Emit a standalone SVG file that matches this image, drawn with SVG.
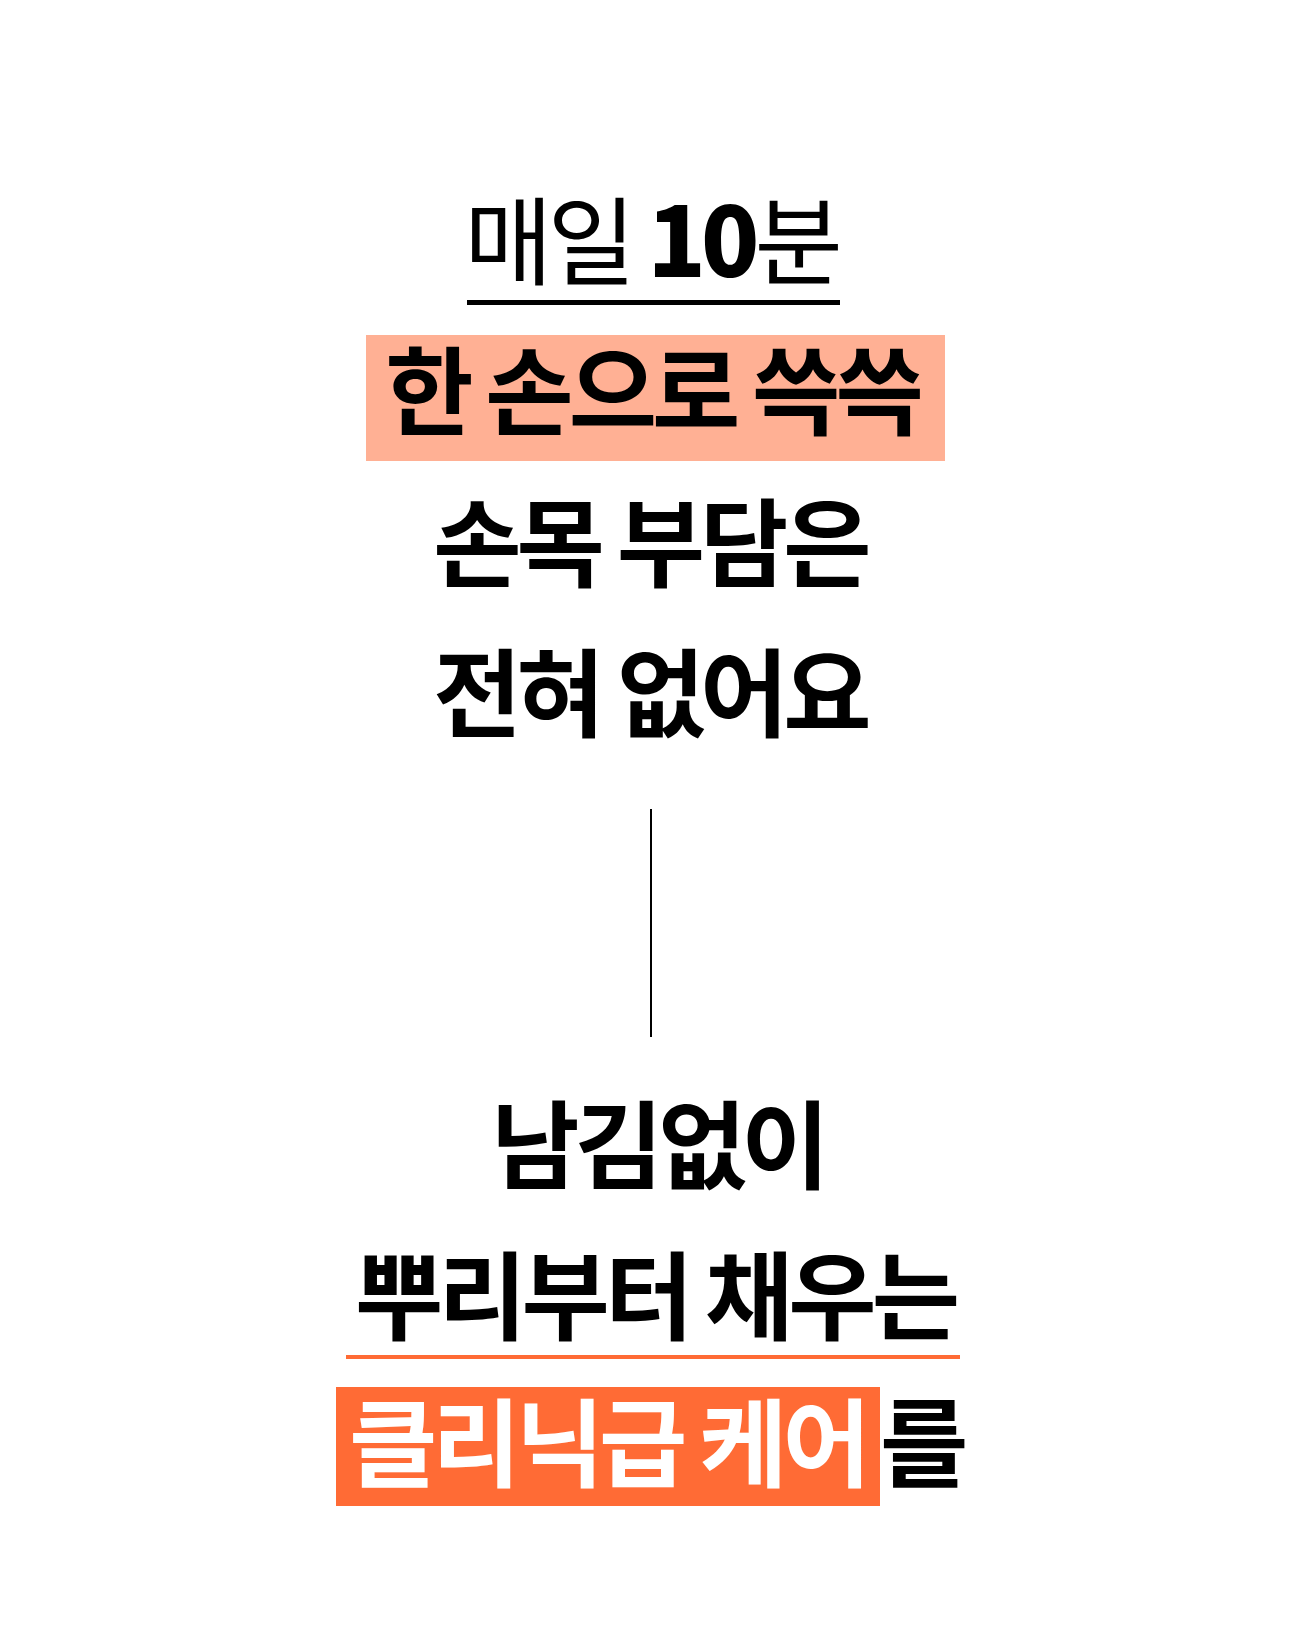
<svg xmlns="http://www.w3.org/2000/svg" width="1300" height="1633" viewBox="0 0 1300 1633">
<style>
.t{font-family:"Noto Sans CJK KR","Noto Sans",sans-serif;font-size:96px;font-weight:700;fill:#000;letter-spacing:-5px}
.reg{font-weight:400}
.w{fill:#fff}
</style>
<rect width="1300" height="1633" fill="#fff"/>
<g id="line1">
<text class="t" x="651" y="277" text-anchor="middle"><tspan class="reg">매일 </tspan><tspan font-weight="800">10</tspan><tspan class="reg">분</tspan></text>
<rect x="467" y="300" width="373" height="5" fill="#000"/>
</g>
<g id="line2">
<rect x="366" y="335" width="579" height="126" fill="#FFB094"/>
<text class="t" x="652" y="427" text-anchor="middle">한 손으로 쓱쓱</text>
</g>
<g id="line3"><text class="t" x="650" y="579" text-anchor="middle">손목 부담은</text></g>
<g id="line4"><text class="t" x="650" y="729" text-anchor="middle">전혀 없어요</text></g>
<g id="connectors"><line x1="651" y1="809" x2="651" y2="1037" stroke="#000" stroke-width="2"/></g>
<g id="line5"><text class="t" x="658" y="1181" text-anchor="middle">남김없이</text></g>
<g id="line6">
<text class="t" x="655" y="1332" text-anchor="middle">뿌리부터 채우는</text>
<rect x="346" y="1355" width="614" height="4" fill="#FF6B35"/>
</g>
<g id="line7">
<rect x="336" y="1387" width="544" height="119" fill="#FF6B35"/>
<text class="t w" x="349" y="1479">클리닉급 케어</text>
<text class="t" x="880" y="1479">를</text>
</g>
</svg>
